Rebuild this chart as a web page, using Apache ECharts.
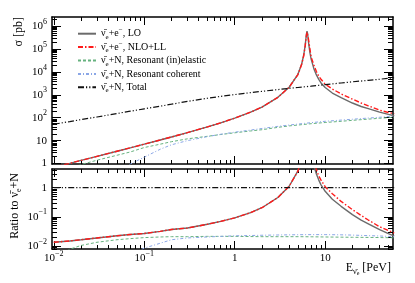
<!DOCTYPE html>
<html><head><meta charset="utf-8">
<script src="https://cdn.jsdelivr.net/npm/echarts@6/dist/echarts.min.js"></script>
<style>html,body{margin:0;padding:0;background:#fff}#c{width:415px;height:283px}</style>
</head><body><div id="c"></div>
<script>
// ---- data ----
const energyLep = [0.01,0.015,0.02,0.03,0.05,0.07, 0.1,0.15,0.2,0.3,0.5,0.7, 1,1.5,2,3,4,5, 5.5,5.8,6,6.1,6.2,6.3, 6.4,6.5,6.6,6.8,7,7.5, 8,8.5,9,10,12,15, 20,25,30,40,50,58];
const sigmaLO = [0.68,1.02,1.37,2.06,3.45,4.85, 7.0,10.7,14.5,22.4,40,60, 96,175,292,780,2150,7900, 22300,56300,137000,243000,442000,612000, 456000,259000,151000,66000,36500,13900, 7400,4710,3300,2100,1200,760, 440,310,250,175,140,122];
const sigmaNLO = [0.68,1.02,1.37,2.06,3.45,4.85, 7.0,10.7,14.5,22.4,40,60, 96,175,292,780,2150,7700, 21500,52000,125000,220000,390000,545000, 470000,320000,210000,95000,45000,20000, 10500,6500,4800,2900,1800,1100, 650,440,330,215,170,150];
const ratioLO = [0.0135,0.015,0.0165,0.019,0.0225,0.025, 0.027,0.032,0.037,0.0415,0.056,0.070, 0.093,0.14,0.206,0.46,1.12,3.76, 10.2,25,60,107,195,270, 200,113,66,29,15.2,5.65, 2.94,1.82,1.25,0.75,0.40,0.23, 0.119,0.0775,0.058,0.0365,0.0267,0.022];
const ratioNLO = [0.0135,0.015,0.0165,0.019,0.0225,0.025, 0.027,0.032,0.037,0.0415,0.056,0.070, 0.093,0.14,0.206,0.46,1.12,3.67, 9.8,23.4,55,97,173,242, 209,142,93,40,18.8,8.1, 4.2,2.5,1.81,1.08,0.62,0.34, 0.178,0.112,0.078,0.046,0.034,0.028];

const energyNuc = [0.01,0.015,0.02,0.03,0.05,0.07,0.1,0.15,0.2,0.3,0.5,0.7,1,1.5,2,3,4,5,7,10,15,20,30,40,58];
const sigmaTotal = [52,68,83,108,153,193,245,320,390,520,710,860,1030,1250,1420,1700,1920,2100,2400,2800,3300,3700,4300,4800,5600];
const sigmaInel = [0.45,0.65,0.9,1.4,2.3,3.2,5,7,9,12,15.5,18.5,22,26.5,30,38,44,48,55,62,70,77,87,95,105];
const sigmaCoh = [0.01,0.02,0.04,0.12,0.45,0.95,1.9,4.2,6.6,10,15,19,23.5,29,34,42,48,53,61,70,79,86,97,105,118];
const ratioInel = [0.004,0.0078,0.0105,0.0135,0.0165,0.018,0.0195,0.0205,0.021,0.021,0.0215,0.0215,0.0215,0.0212,0.021,0.021,0.021,0.021,0.0208,0.0205,0.0202,0.02,0.0198,0.0196,0.0192];
const ratioCoh = [0.0004,0.0008,0.0012,0.0018,0.003,0.005,0.0085,0.0125,0.0165,0.019,0.0205,0.0215,0.0225,0.023,0.0235,0.024,0.0243,0.0245,0.0247,0.0247,0.0243,0.0238,0.0228,0.0222,0.021];
const energyFlat = [0.01, 58];
const ratioTotal = [1, 1];

const xTicks = [0.01, 0.1, 1, 10];
const xTickLabels = ['10{u|−2}', '10{u|−1}', '1', '10'];
const sigmaTicks = [1, 10, 100, 1e3, 1e4, 1e5, 1e6];
const sigmaTickLabels = ['1', '10', '10{u|2}', '10{u|3}', '10{u|4}', '10{u|5}', '10{u|6}'];
const ratioTicks = [0.01, 0.1, 1];
const ratioTickLabels = ['10{u|−2}', '10{u|−1}', '1'];

const seriesNames = ['lo', 'nlo', 'inel', 'coh', 'tot'];
const legendLabels = {
  lo: '{n|ν̄}{s|e}{n|+e}{u|−}{n|, LO}',
  nlo: '{n|ν̄}{s|e}{n|+e}{u|−}{n|, NLO+LL}',
  inel: '{n|ν̄}{s|e}{n|+N, Resonant (in)elastic}',
  coh: '{n|ν̄}{s|e}{n|+N, Resonant coherent}',
  tot: '{n|ν̄}{s|e}{n|+N, Total}'
};

// ---- styling / layout ----
const FONT = '"Liberation Serif","DejaVu Serif",serif';
const lg = Math.log10;
const X_MIN = -2.02, X_MAX = 1.75;
const S_MIN = -0.02, S_MAX = 6.4;
const R_MIN = -2.1, R_MAX = 0.64;
const styles = {
  lo:   {color: '#6b6b6b', width: 1.4, type: 'solid'},
  nlo:  {color: '#ff1a1a', width: 1.4, type: [5, 2, 1.5, 2]},
  inel: {color: '#66b27f', width: 1, type: [3, 2]},
  coh:  {color: '#8aa6e6', width: 1, type: [3, 2, 1, 2]},
  tot:  {color: '#111111', width: 1.2, type: [6, 2, 1.2, 2, 1.2, 2]}
};

function minorLog(lo, hi) {
  const out = [];
  for (let n = Math.floor(lo) - 1; n <= Math.ceil(hi); n++)
    for (let k = 2; k <= 9; k++) { const v = n + lg(k); if (v > lo + 1e-9 && v < hi - 1e-9) out.push(v); }
  return out;
}
const labelRich = { u: {fontSize: 8, fontFamily: FONT, color: '#000', verticalAlign: 'top'} };
function fmt(ticks, labels) {
  return v => { for (let i = 0; i < ticks.length; i++) if (Math.abs(lg(ticks[i]) - v) < 1e-6) return labels[i]; return ''; };
}

const xAxes = [], yAxes = [];
function addAxis(list, dim, grid, pos, min, max, ticks, len, line, label) {
  list.push({
    type: 'value', gridIndex: grid, position: pos, min: min, max: max,
    axisLine: {show: line, onZero: false, lineStyle: {color: '#000', width: 1.5}},
    axisTick: {show: true, inside: true, length: len, customValues: ticks, lineStyle: {color: '#000', width: 1}},
    axisLabel: label ? Object.assign({show: true, customValues: ticks, fontFamily: FONT, fontSize: 11, color: '#000', lineHeight: 17, rich: labelRich}, label) : {show: false},
    splitLine: {show: false}, minorTick: {show: false}
  });
  return list.length - 1;
}
const xMaj = xTicks.map(lg), xMin = minorLog(X_MIN, X_MAX);
const sMaj = sigmaTicks.map(lg), sMin = minorLog(S_MIN, S_MAX);
const rMaj = ratioTicks.map(lg), rMin = minorLog(R_MIN, R_MAX);

// top grid (0)
const xTop = addAxis(xAxes, 'x', 0, 'bottom', X_MIN, X_MAX, xMaj, 8, true, null);
addAxis(xAxes, 'x', 0, 'bottom', X_MIN, X_MAX, xMin, 4, false, null);
addAxis(xAxes, 'x', 0, 'top', X_MIN, X_MAX, xMaj, 8, true, null);
addAxis(xAxes, 'x', 0, 'top', X_MIN, X_MAX, xMin, 4, false, null);
const yTop = addAxis(yAxes, 'y', 0, 'left', S_MIN, S_MAX, sMaj, 9, true, {margin: 5, formatter: fmt(sigmaTicks, sigmaTickLabels)});
addAxis(yAxes, 'y', 0, 'left', S_MIN, S_MAX, sMin, 5, false, null);
addAxis(yAxes, 'y', 0, 'right', S_MIN, S_MAX, sMaj, 9, true, null);
addAxis(yAxes, 'y', 0, 'right', S_MIN, S_MAX, sMin, 5, false, null);
// bottom grid (1)
const xBot = addAxis(xAxes, 'x', 1, 'bottom', X_MIN, X_MAX, xMaj, 8, true, {margin: 1, formatter: fmt(xTicks, xTickLabels)});
addAxis(xAxes, 'x', 1, 'bottom', X_MIN, X_MAX, xMin, 4, false, null);
addAxis(xAxes, 'x', 1, 'top', X_MIN, X_MAX, xMaj, 8, true, null);
addAxis(xAxes, 'x', 1, 'top', X_MIN, X_MAX, xMin, 4, false, null);
const yBot = addAxis(yAxes, 'y', 1, 'left', R_MIN, R_MAX, rMaj, 9, true, {margin: 5, formatter: fmt(ratioTicks, ratioTickLabels)});
addAxis(yAxes, 'y', 1, 'left', R_MIN, R_MAX, rMin, 5, false, null);
addAxis(yAxes, 'y', 1, 'right', R_MIN, R_MAX, rMaj, 9, true, null);
addAxis(yAxes, 'y', 1, 'right', R_MIN, R_MAX, rMin, 5, false, null);

function mk(name, xs, ys, xi, yi) {
  return {
    name: name, type: 'line', xAxisIndex: xi, yAxisIndex: yi, symbol: 'none', showSymbol: false,
    clip: true, silent: true, animation: false,
    data: xs.map((e, i) => [lg(e), lg(ys[i])]),
    lineStyle: styles[name], itemStyle: {color: styles[name].color}
  };
}
const series = [
  mk('lo', energyLep, sigmaLO, xTop, yTop),
  mk('nlo', energyLep, sigmaNLO, xTop, yTop),
  mk('inel', energyNuc, sigmaInel, xTop, yTop),
  mk('coh', energyNuc, sigmaCoh, xTop, yTop),
  mk('tot', energyNuc, sigmaTotal, xTop, yTop),
  mk('lo', energyLep, ratioLO, xBot, yBot),
  mk('nlo', energyLep, ratioNLO, xBot, yBot),
  mk('inel', energyNuc, ratioInel, xBot, yBot),
  mk('coh', energyNuc, ratioCoh, xBot, yBot),
  mk('tot', energyFlat, ratioTotal, xBot, yBot)
];

const subRich = {
  n: {fontSize: 10, fontFamily: FONT, color: '#000', verticalAlign: 'middle'},
  s: {fontSize: 7, fontFamily: FONT, color: '#000', verticalAlign: 'bottom'},
  u: {fontSize: 7, fontFamily: FONT, color: '#000', verticalAlign: 'top'}
};

const chart = echarts.init(document.getElementById('c'), null, {renderer: 'canvas'});
chart.setOption({
  animation: false,
  backgroundColor: '#fff',
  grid: [
    {left: 52, top: 17, width: 341, height: 147},
    {left: 52, top: 169, width: 341, height: 80}
  ],
  xAxis: xAxes,
  yAxis: yAxes,
  legend: {
    data: seriesNames, orient: 'vertical', left: 72, top: 22,
    itemWidth: 18, itemHeight: 8, itemGap: 0, selectedMode: false,
    itemStyle: {opacity: 0, borderWidth: 0, color: 'rgba(0,0,0,0)'},
    formatter: n => legendLabels[n],
    textStyle: {fontFamily: FONT, fontSize: 10, color: '#000', lineHeight: 13.4, rich: subRich}
  },
  graphic: [
    {type: 'text', x: 19, y: 17, rotation: Math.PI / 2, silent: true,
      style: {text: 'σ [pb]', fontFamily: FONT, fontSize: 12, fill: '#000', align: 'right', verticalAlign: 'middle', textAlign: 'right', textVerticalAlign: 'middle'}},
    {type: 'text', x: 15, y: 206, rotation: Math.PI / 2, silent: true,
      style: {text: 'Ratio to {n|ν̄}{s|e}{n|+N}', fontFamily: FONT, fontSize: 12, fill: '#000', align: 'center', verticalAlign: 'middle', textAlign: 'center', textVerticalAlign: 'middle', lineHeight: 16,
        rich: {n: {fontSize: 12, fontFamily: FONT, fill: '#000', verticalAlign: 'middle'}, s: {fontSize: 8, fontFamily: FONT, fill: '#000', verticalAlign: 'bottom'}}}},
    {type: 'text', x: 391, y: 268, silent: true,
      style: {text: '{n|E}{s|ν̄}{t|e}{n| [PeV]}', fontFamily: FONT, fontSize: 12, fill: '#000', align: 'right', verticalAlign: 'middle', textAlign: 'right', textVerticalAlign: 'middle', lineHeight: 16,
        rich: {n: {fontSize: 12, fontFamily: FONT, fill: '#000', verticalAlign: 'middle'}, s: {fontSize: 8, fontFamily: FONT, fill: '#000', verticalAlign: 'bottom'}, t: {fontSize: 6, fontFamily: FONT, fill: '#000', verticalAlign: 'bottom', padding: [0, 0, 0, 0]}}}}
  ],
  series: series
});
</script>
</body></html>
